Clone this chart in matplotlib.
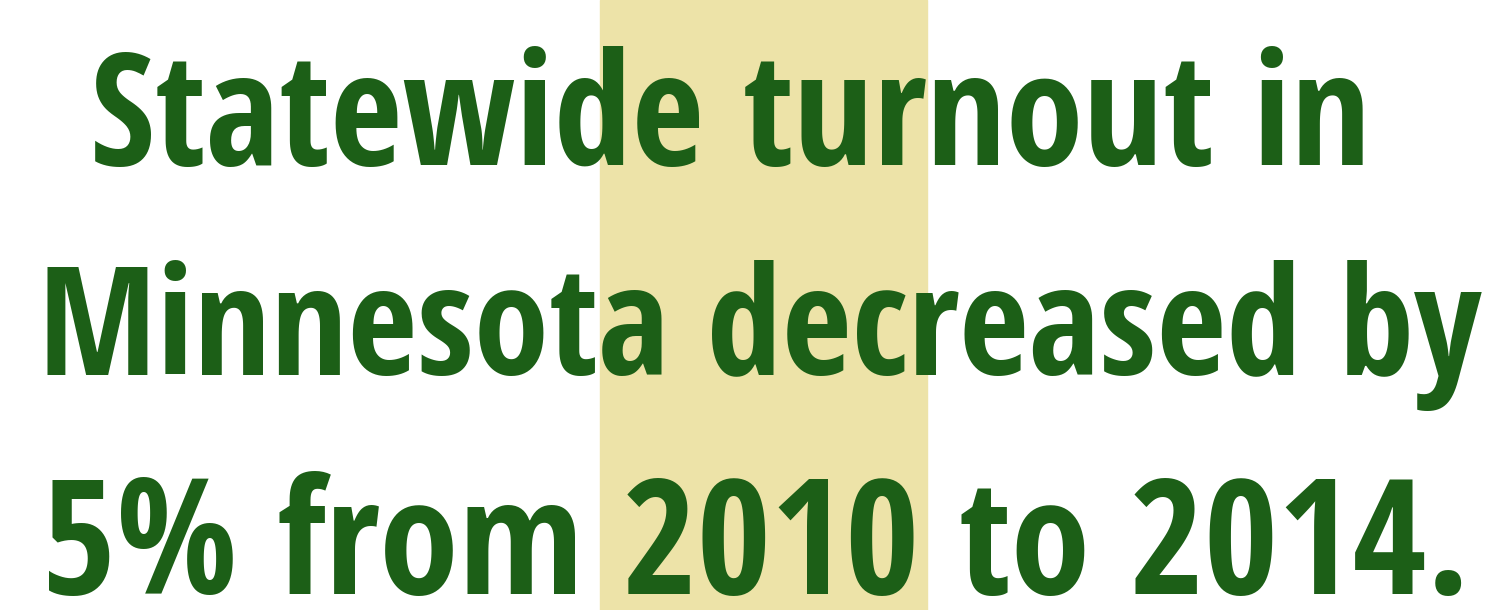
import matplotlib
matplotlib.use("Agg")
import matplotlib.pyplot as plt
from matplotlib import font_manager
from matplotlib.font_manager import FontProperties
from matplotlib.ft2font import FT2Font

# text lines and the target layout (pixels)
lines = ["Statewide turnout in", "Minnesota decreased by", "5% from 2010 to 2014."]
line_centers = [730, 760, 756]
line_widths = [1280, 1444, 1428]
baselines = [165, 375, 594]

band_left, band_right = 600, 927
band_color = "#ede3a8"
text_color = "#1c5f17"

W, H = 1512, 610

fig = plt.figure(figsize=(W / 100, H / 100), dpi=100)
fig.patch.set_facecolor("white")
ax = fig.add_axes([0, 0, 1, 1])
ax.set_xlim(0, W)
ax.set_ylim(H, 0)
ax.axis("off")
renderer = fig.canvas.get_renderer()

chars = set("".join(lines).replace(" ", ""))
families = ("DejaVu Sans", "Liberation Sans", "Noto Sans", "Roboto", "Open Sans", "Lato", "Inter")

def has_all(fname):
    try:
        ft = FT2Font(fname)
    except Exception:
        return False
    return all(ft.get_char_index(ord(c)) != 0 for c in chars)

# pick the narrowest bold sans face (from the usual families) that covers the text
best, best_ratio = None, 1e9
for f in font_manager.fontManager.ttflist:
    w = f.weight if isinstance(f.weight, int) else 700 if "bold" in str(f.weight) else 400
    if w < 700 or not f.name.startswith(families):
        continue
    if "Mono" in f.name or "CJK" in f.name or "Display" in f.name:
        continue
    if f.style != "normal" or not has_all(f.fname):
        continue
    fp = FontProperties(fname=f.fname, size=100)
    t = ax.text(0, 300, "Minnesota", fontproperties=fp)
    ext = t.get_window_extent(renderer)
    t.remove()
    ratio = ext.width / 100
    if ratio < best_ratio:
        best, best_ratio = f.fname, ratio

ax.axvspan(band_left, band_right, color=band_color, zorder=0)

for txt, cx, w, by in zip(lines, line_centers, line_widths, baselines):
    fp = FontProperties(fname=best, size=100)
    t = ax.text(cx, by, txt, ha="center", va="baseline",
                fontproperties=fp, color=text_color)
    ext = t.get_window_extent(renderer)
    t.set_fontsize(100 * w / ext.width)

fig.savefig("out.png", dpi=100, facecolor="white")
